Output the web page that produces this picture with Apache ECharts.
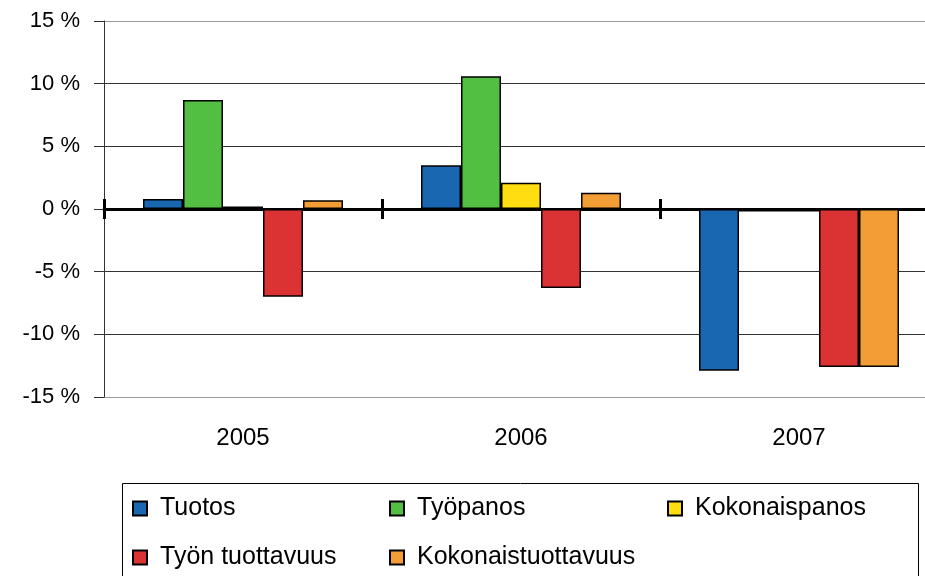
<!DOCTYPE html>
<html lang="fi">
<head>
    <meta charset="UTF-8">
    <title>Tuottavuus 2005-2007</title>
    <script src="https://cdn.jsdelivr.net/npm/echarts@6/dist/echarts.min.js"></script>
    <style>
        html, body { margin: 0; padding: 0; background: #fff; }
        #chart { width: 925px; height: 576px; }
    </style>
</head>
<body>
    <div id="chart"></div>
    <script>
        var years = ['2005', '2006', '2007'];
        var seriesNames = ['Tuotos', 'Työpanos', 'Kokonaispanos', 'Työn tuottavuus', 'Kokonaistuottavuus'];
        var colors = ['#1967b0', '#53bf42', '#ffdd10', '#db3333', '#f29d35'];
        var tuotos = [0.8, 3.5, -12.9];
        var tyopanos = [8.7, 10.6, -0.2];
        var kokonaispanos = [0.2, 2.1, -0.2];
        var tyonTuottavuus = [-7.0, -6.3, -12.6];
        var kokonaistuottavuus = [0.7, 1.3, -12.6];
        var values = [tuotos, tyopanos, kokonaispanos, tyonTuottavuus, kokonaistuottavuus];

        // legend positions (one legend per item)
        var legendPos = [[132, 496], [389, 496], [667, 496], [132, 545], [389, 545]];

        var chart = echarts.init(document.getElementById('chart'));
        var font = 'Liberation Sans, Arial, sans-serif';

        var option = {
            animation: false,
            textStyle: { fontFamily: font },
            grid: { left: 104, top: 21, width: 834, height: 376, containLabel: false, outerBoundsMode: 'none' },
            graphic: [{
                type: 'rect',
                shape: { x: 122.5, y: 483.5, width: 796, height: 100 },
                style: { fill: 'none', stroke: '#000', lineWidth: 1 },
                silent: true
            }],
            legend: seriesNames.map(function (name, i) {
                return {
                    data: [name],
                    left: legendPos[i][0],
                    top: legendPos[i][1],
                    icon: 'rect',
                    itemWidth: 14,
                    itemHeight: 14,
                    padding: 0,
                    selectedMode: false,
                    textStyle: { fontSize: 25, color: '#000', fontFamily: font, padding: [0, 0, 0, 8] }
                };
            }),
            xAxis: [{
                type: 'category',
                data: years,
                position: 'bottom',
                axisLine: { show: false, onZero: false },
                axisTick: { show: false },
                axisLabel: { fontSize: 24, color: '#000', margin: 29 },
                splitLine: { show: false }
            }, {
                type: 'category',
                data: years,
                position: 'bottom',
                axisLine: { show: true, onZero: true, onZeroAxisIndex: 0, lineStyle: { color: '#000', width: 3 } },
                axisTick: { show: true, length: 10, lineStyle: { color: '#000', width: 3 } },
                axisLabel: { show: false }
            }, {
                type: 'category',
                data: years,
                position: 'bottom',
                axisLine: { show: false, onZero: true, onZeroAxisIndex: 0 },
                axisTick: { show: true, inside: true, length: 10, lineStyle: { color: '#000', width: 3 } },
                axisLabel: { show: false }
            }],
            yAxis: {
                type: 'value',
                min: -15,
                max: 15,
                interval: 5,
                axisLine: { show: true, lineStyle: { color: '#333', width: 1 } },
                axisTick: { show: true, length: 10, lineStyle: { color: '#333' } },
                axisLabel: { formatter: '{value} %', fontSize: 22, color: '#000', margin: 24 },
                splitLine: {
                    show: true,
                    lineStyle: { color: ['#999', '#333', '#333', '#333', '#333', '#333', '#999'], width: 1 }
                }
            },
            series: seriesNames.map(function (name, i) {
                return {
                    name: name,
                    type: 'bar',
                    xAxisIndex: 0,
                    data: values[i],
                    barWidth: 40,
                    barGap: '0%',
                    itemStyle: { color: colors[i], borderColor: '#000', borderWidth: 1.5 }
                };
            })
        };

        chart.setOption(option);
    </script>
</body>
</html>
